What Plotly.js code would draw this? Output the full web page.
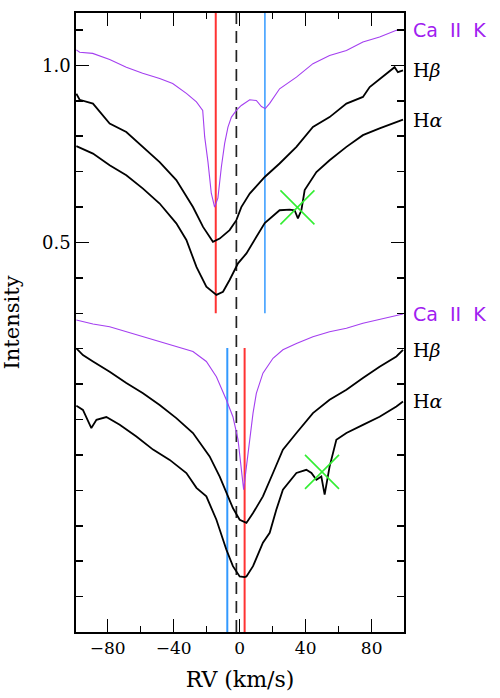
<!DOCTYPE html>
<html>
<head>
<meta charset="utf-8">
<script src="https://cdn.plot.ly/plotly-3.0.1.min.js"></script>
<style>
  html, body { margin: 0; padding: 0; background: #fff; }
  #chart { width: 500px; height: 698px; }
</style>
</head>
<body>
<div id="chart"></div>
<script>
// Radial-velocity profiles of Ca II K, Hbeta and Halpha for two epochs (upper and lower groups)

// ---- upper group ----
const caUpperRV = [-99.0,-97.0,-89.1,-78.8,-68.7,-58.8,-48.5,-40.6,-32.3,-26.2,-22.4,-21.2,-19.2,-17.2,-15.2,-13.2,-11.1,-9.1,-7.1,-5.0,-2.0,1.0,6.1,10.1,13.2,15.5,18.2,24.2,34.4,44.4,54.5,64.7,74.7,84.8,95.0,99.0];
const caUpperI  = [1.044,1.037,1.034,1.017,0.995,0.978,0.963,0.949,0.921,0.897,0.873,0.798,0.727,0.639,0.600,0.625,0.713,0.780,0.826,0.854,0.873,0.887,0.903,0.901,0.884,0.878,0.893,0.934,0.967,1.005,1.028,1.042,1.066,1.080,1.099,1.101];

const hbUpperRV = [-99.0,-97.0,-88.9,-78.8,-68.7,-58.6,-48.5,-38.4,-28.3,-22.2,-16.2,-12.1,-6.1,-2.0,1.0,6.1,12.1,15.2,24.2,34.4,44.4,54.5,64.7,74.7,78.8,84.8,90.9,93.9,95.9,99.0];
const hbUpperI  = [0.920,0.903,0.892,0.836,0.812,0.770,0.727,0.676,0.600,0.544,0.502,0.511,0.535,0.563,0.600,0.638,0.671,0.685,0.723,0.770,0.826,0.854,0.892,0.911,0.939,0.962,0.986,0.995,0.981,0.986];

const haUpperRV = [-99.0,-88.9,-78.8,-68.7,-58.6,-48.5,-38.4,-32.3,-26.2,-20.2,-14.1,-10.1,-6.1,-1.0,4.1,10.1,15.2,24.2,30.3,33.3,35.3,37.4,39.4,46.5,54.5,64.7,74.7,84.8,95.0,99.0];
const haUpperI  = [0.772,0.751,0.718,0.690,0.652,0.610,0.554,0.507,0.431,0.375,0.352,0.361,0.394,0.441,0.469,0.516,0.555,0.591,0.593,0.591,0.568,0.591,0.648,0.699,0.732,0.770,0.803,0.822,0.840,0.847];

// ---- lower group ----
const caLowerRV = [-99.0,-88.9,-78.8,-68.7,-58.6,-48.5,-38.4,-28.3,-20.2,-14.1,-8.1,-4.1,-1.0,1.0,2.4,4.1,6.1,8.1,10.1,14.1,20.2,26.2,34.4,44.4,54.5,64.7,74.7,84.8,99.0];
const caLowerI  = [0.281,0.270,0.262,0.248,0.234,0.220,0.206,0.192,0.164,0.121,0.056,0.008,-0.057,-0.151,-0.198,-0.133,-0.057,0.018,0.074,0.131,0.173,0.197,0.215,0.234,0.248,0.258,0.272,0.283,0.298];

const hbLowerRV = [-99.0,-95.0,-88.9,-78.8,-68.7,-58.6,-48.5,-38.4,-28.3,-18.2,-12.1,-8.1,-4.1,0.0,4.1,8.1,14.1,20.2,26.2,34.4,44.4,54.5,64.7,74.7,84.8,95.0,99.0];
const hbLowerI  = [0.201,0.182,0.164,0.135,0.103,0.074,0.041,0.004,-0.038,-0.104,-0.161,-0.208,-0.250,-0.283,-0.292,-0.264,-0.217,-0.151,-0.085,-0.038,0.018,0.056,0.084,0.117,0.149,0.178,0.197];

const haLowerRV = [-99.0,-95.0,-89.9,-86.8,-80.8,-72.7,-62.6,-52.5,-42.4,-32.3,-26.2,-20.2,-14.1,-8.1,-4.1,0.0,3.0,4.1,8.1,14.1,18.2,22.2,26.2,34.4,40.4,43.5,46.5,49.5,51.5,54.5,58.6,64.7,74.7,84.8,95.0,99.0];
const haLowerI  = [0.039,0.027,-0.024,-0.001,0.007,-0.015,-0.048,-0.085,-0.114,-0.151,-0.193,-0.217,-0.283,-0.367,-0.414,-0.443,-0.445,-0.443,-0.414,-0.348,-0.320,-0.255,-0.198,-0.151,-0.142,-0.151,-0.170,-0.161,-0.212,-0.133,-0.057,-0.038,-0.015,0.008,0.037,0.051];

// reference velocities (km/s) and the intensity span of each marker line
const restRV = -2.0;
const upperRedRV = -14.5, upperBlueRV = 15.3, upperSpan = [0.30, 1.148];
const lowerBlueRV = -7.5, lowerRedRV = 3.0, lowerSpan = [-0.6, 0.202];

// crossed-out features in the Halpha profiles
const crossRV = [35.0, 49.9];
const crossI  = [0.599, -0.148];

// axis settings
const xRange = [-99.2, 99.6];
const yRange = [-0.6, 1.148];
const xTicks = [-80, -40, 0, 40, 80];
const xTickText = ['\u221280', '\u221240', '0', '40', '80'];
const yTicks = [0.5, 1.0];
const yTickText = ['0.5', '1.0'];

const PURPLE = '#a020f0';
const PURPLE_LINE = '#a43ff0';
const RED = '#ff3333';
const BLUE = '#3399ff';
const GREEN = '#33ee33';

function vline(x, span, color, width, dash) {
  return { x: [x, x], y: span, mode: 'lines', hoverinfo: 'skip',
           line: { color: color, width: width, dash: dash || 'solid' } };
}
function profile(x, y, color, width) {
  return { x: x, y: y, mode: 'lines', hoverinfo: 'skip',
           line: { color: color, width: width, shape: 'linear' } };
}

const traces = [
  vline(restRV, yRange, '#222', 1.7, '12px,7px'),
  vline(upperRedRV, upperSpan, RED, 2),
  vline(upperBlueRV, upperSpan, BLUE, 1.5),
  vline(lowerBlueRV, lowerSpan, BLUE, 2),
  vline(lowerRedRV, lowerSpan, RED, 2),
  profile(caUpperRV, caUpperI, PURPLE_LINE, 1.1),
  profile(hbUpperRV, hbUpperI, '#000', 1.8),
  profile(haUpperRV, haUpperI, '#000', 1.8),
  profile(caLowerRV, caLowerI, PURPLE_LINE, 1.1),
  profile(hbLowerRV, hbLowerI, '#000', 1.8),
  profile(haLowerRV, haLowerI, '#000', 1.8),
  { x: crossRV, y: crossI, mode: 'markers', hoverinfo: 'skip',
    marker: { symbol: 'x-thin', size: 34, line: { color: GREEN, width: 1.6 } } }
];

// right-hand labels sit at the final value of each profile
function endLabel(yArr, text, color, family, size) {
  return { xref: 'paper', x: 1, xanchor: 'left', xshift: 7,
           yref: 'y', y: yArr[yArr.length - 1], yanchor: 'middle',
           text: text, showarrow: false,
           font: { family: family, size: size, color: color } };
}

const CA_LABEL = 'Ca&nbsp;&nbsp;II&nbsp;&nbsp;K';
const annotations = [
  endLabel(caUpperI, CA_LABEL, PURPLE, 'DejaVu Sans', 19),
  endLabel(hbUpperI, 'H<i>\u03B2</i>', '#000', 'DejaVu Serif', 19),
  endLabel(haUpperI, 'H<i>\u03B1</i>', '#000', 'DejaVu Serif', 19),
  endLabel(caLowerI, CA_LABEL, PURPLE, 'DejaVu Sans', 19),
  endLabel(hbLowerI, 'H<i>\u03B2</i>', '#000', 'DejaVu Serif', 19),
  endLabel(haLowerI, 'H<i>\u03B1</i>', '#000', 'DejaVu Serif', 19)
];

const layout = {
  width: 500, height: 698,
  margin: { l: 76, r: 96, t: 13, b: 66 },
  paper_bgcolor: '#fff', plot_bgcolor: '#fff',
  showlegend: false,
  font: { family: 'DejaVu Serif', color: '#000' },
  xaxis: {
    range: xRange, tickmode: 'array', tickvals: xTicks, ticktext: xTickText,
    ticks: 'inside', ticklen: 13, tickwidth: 1.5, tickcolor: '#000',
    minor: { dtick: 20, tick0: 0, ticks: 'inside', ticklen: 6, tickwidth: 1.5, tickcolor: '#000' },
    mirror: 'ticks', showline: true, linecolor: '#000', linewidth: 1.8,
    showgrid: false, zeroline: false,
    tickfont: { family: 'DejaVu Serif', size: 17 },
    title: { text: 'RV (km/s)', font: { family: 'DejaVu Serif', size: 22 }, standoff: 14 }
  },
  yaxis: {
    range: yRange, tickmode: 'array', tickvals: yTicks, ticktext: yTickText,
    ticks: 'inside', ticklen: 13, tickwidth: 1.5, tickcolor: '#000',
    minor: { dtick: 0.1, tick0: 0, ticks: 'inside', ticklen: 7, tickwidth: 1.5, tickcolor: '#000' },
    mirror: 'ticks', showline: true, linecolor: '#000', linewidth: 1.8,
    showgrid: false, zeroline: false,
    tickfont: { family: 'DejaVu Serif', size: 18 },
    title: { text: 'Intensity', font: { family: 'DejaVu Serif', size: 21 }, standoff: 24 }
  },
  annotations: annotations
};

Plotly.newPlot('chart', traces, layout, { staticPlot: true, displayModeBar: false });
</script>
</body>
</html>
